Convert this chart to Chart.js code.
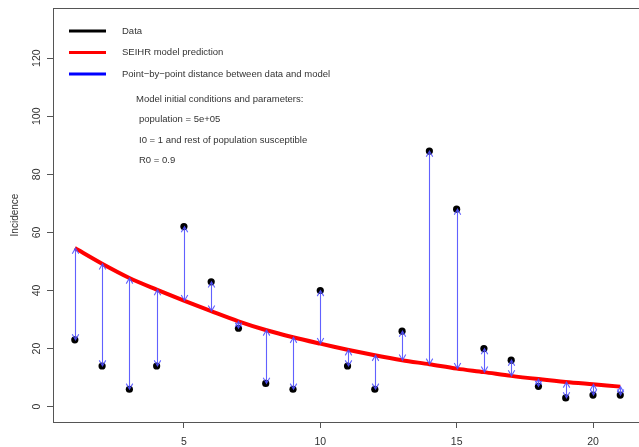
<!DOCTYPE html>
<html>
<head>
<meta charset="utf-8">
<script src="https://cdn.jsdelivr.net/npm/chart.js@4/dist/chart.umd.min.js"></script>
<style>
  html, body { margin: 0; padding: 0; background: #fff; }
</style>
</head>
<body>
<canvas id="chart" width="639" height="447"></canvas>
<script>
const days = [1, 2, 3, 4, 5, 6, 7, 8, 9, 10, 11, 12, 13, 14, 15, 16, 17, 18, 19, 20, 21];
const incidence = [23, 14, 6, 14, 62, 43, 27, 8, 6, 40, 14, 6, 26, 88, 68, 20, 16, 7, 3, 4, 4];
const modelPrediction = [54.6, 49.2, 44.3, 40.3, 36.5, 32.9, 29.4, 26.4, 23.9, 21.7, 19.6, 17.7, 16.0, 14.6, 13.1, 11.9, 10.6, 9.5, 8.5, 7.7, 6.9];
const xTicks = [5, 10, 15, 20];
const yTicks = [0, 20, 40, 60, 80, 100, 120];
const legendLabels = ['Data', 'SEIHR model prediction', 'Point\u2212by\u2212point distance between data and model'];
const legendColors = ['#000000', '#ff0000', '#0000ff'];
const paramLines = [
  'Model initial conditions and parameters:',
  'population = 5e+05',
  'I0 = 1 and rest of population susceptible',
  'R0 = 0.9'
];

const FONT = '"Liberation Sans", Arial, Helvetica, sans-serif';
const AXIS_COLOR = '#555';
const TEXT_COLOR = '#333';

// box round the plot region (right side runs off the picture)
const framePlugin = {
  id: 'frame',
  beforeDatasetsDraw(chart) {
    const { ctx, chartArea: a } = chart;
    ctx.save();
    ctx.strokeStyle = AXIS_COLOR;
    ctx.lineWidth = 1;
    ctx.strokeRect(a.left + 0.5, a.top + 0.5, a.right - a.left + 20, a.bottom - a.top);
    ctx.restore();
  }
};

// vertical double-headed arrows between data and model
const arrowsPlugin = {
  id: 'arrows',
  afterDatasetsDraw(chart) {
    const { ctx, scales: { x, y } } = chart;
    const head = 6.5;
    const sx = head * Math.sin(Math.PI / 6);
    const sy = head * Math.cos(Math.PI / 6);
    ctx.save();
    ctx.strokeStyle = 'rgba(80, 80, 255, 0.9)';
    ctx.lineWidth = 1.1;
    days.forEach((d, i) => {
      const px = Math.round(x.getPixelForValue(d)) + 0.5;
      const y0 = y.getPixelForValue(modelPrediction[i]);
      const y1 = y.getPixelForValue(incidence[i]);
      const dir = y1 > y0 ? 1 : -1;
      ctx.beginPath();
      ctx.moveTo(px, y0);
      ctx.lineTo(px, y1);
      // head at data end
      ctx.moveTo(px - sx, y1 - dir * sy);
      ctx.lineTo(px, y1);
      ctx.lineTo(px + sx, y1 - dir * sy);
      // head at model end
      ctx.moveTo(px - sx, y0 + dir * sy);
      ctx.lineTo(px, y0);
      ctx.lineTo(px + sx, y0 + dir * sy);
      ctx.stroke();
    });
    ctx.restore();
  }
};

// legend and parameter notes inside the plot
const notesPlugin = {
  id: 'notes',
  afterDraw(chart) {
    const { ctx } = chart;
    ctx.save();
    ctx.font = '9.5px ' + FONT;
    ctx.textBaseline = 'middle';
    ctx.fillStyle = TEXT_COLOR;
    legendLabels.forEach((label, i) => {
      const ly = 31 + i * 21.5;
      ctx.strokeStyle = legendColors[i];
      ctx.lineWidth = 3;
      ctx.beginPath();
      ctx.moveTo(69, ly);
      ctx.lineTo(106, ly);
      ctx.stroke();
      ctx.fillText(label, 122, ly);
    });
    paramLines.forEach((line, i) => {
      ctx.fillText(line, i === 0 ? 136 : 139, 99 + i * 20.5);
    });
    ctx.restore();
  }
};

new Chart(document.getElementById('chart'), {
  type: 'scatter',
  data: {
    datasets: [
      {
        type: 'line',
        label: 'SEIHR model prediction',
        data: days.map((d, i) => ({ x: d, y: modelPrediction[i] })),
        borderColor: '#ff0000',
        borderWidth: 4,
        pointRadius: 0,
        tension: 0.3,
        order: 2
      },
      {
        type: 'scatter',
        label: 'Data',
        data: days.map((d, i) => ({ x: d, y: incidence[i] })),
        backgroundColor: '#000000',
        borderWidth: 0,
        pointRadius: 3.6,
        order: 1
      }
    ]
  },
  options: {
    responsive: false,
    devicePixelRatio: 1,
    animation: false,
    layout: { padding: { top: 8, right: 0, bottom: 0, left: 0 } },
    plugins: {
      legend: { display: false },
      tooltip: { enabled: false }
    },
    scales: {
      x: {
        type: 'linear',
        min: 0.2,
        max: 21.54,
        afterBuildTicks: s => { s.ticks = xTicks.map(v => ({ value: v })); },
        afterFit: s => { s.height = 25; s.paddingLeft = 0; s.paddingRight = 0; },
        grid: { drawOnChartArea: false, drawTicks: true, tickLength: 6, color: AXIS_COLOR },
        border: { display: false },
        ticks: { padding: 8, color: TEXT_COLOR, font: { family: FONT, size: 10.5 } }
      },
      y: {
        type: 'linear',
        min: -5.28,
        max: 137.28,
        afterBuildTicks: s => { s.ticks = yTicks.map(v => ({ value: v })); },
        afterFit: s => { s.width = 53; s.paddingTop = 0; s.paddingBottom = 0; },
        grid: { drawOnChartArea: false, drawTicks: true, tickLength: 6, color: AXIS_COLOR },
        border: { display: false },
        ticks: {
          minRotation: 90,
          maxRotation: 90,
          crossAlign: 'center',
          padding: 1.5,
          color: TEXT_COLOR,
          font: { family: FONT, size: 10.5 }
        },
        title: {
          display: true,
          text: 'Incidence',
          color: TEXT_COLOR,
          padding: { top: 9, bottom: 0 },
          font: { family: FONT, size: 10 }
        }
      }
    }
  },
  plugins: [framePlugin, arrowsPlugin, notesPlugin]
});
</script>
</body>
</html>
